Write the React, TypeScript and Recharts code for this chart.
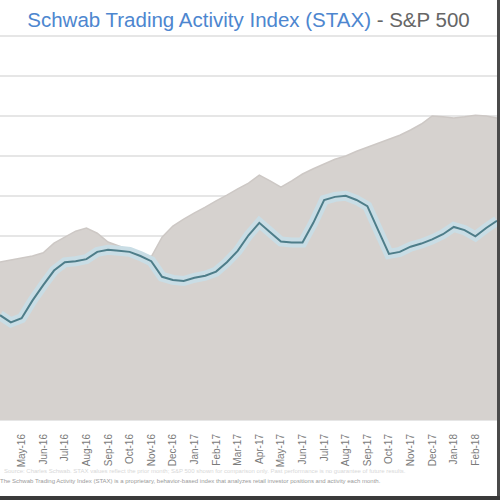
import { Area, CartesianGrid, ComposedChart, Line, XAxis, YAxis } from "recharts";

// semi-monthly readings, a month label on every other point
const monthLabels = [
  "Apr-16", "May-16", "Jun-16", "Jul-16", "Aug-16", "Sep-16", "Oct-16", "Nov-16",
  "Dec-16", "Jan-17", "Feb-17", "Mar-17", "Apr-17", "May-17", "Jun-17", "Jul-17",
  "Aug-17", "Sep-17", "Oct-17", "Nov-17", "Dec-17", "Jan-18", "Feb-18", "Mar-18",
];

const spx = [
  2035, 2040, 2045, 2050, 2058, 2082, 2097, 2112, 2120, 2107, 2085, 2075,
  2065, 2058, 2048, 2097, 2125, 2142, 2158, 2172, 2188, 2202, 2218, 2232,
  2252, 2238, 2222, 2238, 2255, 2268, 2280, 2292, 2300, 2312, 2322, 2332,
  2342, 2352, 2365, 2380, 2400, 2398, 2395, 2398, 2402, 2400, 2395,
];

const stax = [
  4.01, 3.94, 3.98, 4.15, 4.3, 4.44, 4.52, 4.53, 4.55, 4.62, 4.64, 4.63,
  4.62, 4.58, 4.53, 4.38, 4.35, 4.34, 4.37, 4.39, 4.43, 4.52, 4.63, 4.78,
  4.9, 4.81, 4.72, 4.71, 4.71, 4.9, 5.12, 5.15, 5.16, 5.12, 5.06, 4.83,
  4.6, 4.62, 4.67, 4.7, 4.74, 4.79, 4.86, 4.83, 4.77, 4.85, 4.92,
];

const spxTicks = [1700, 1800, 1900, 2000, 2100, 2200, 2300, 2400, 2500, 2600];

// first label sits on the left edge and is cut off in the source, so it is left blank
const data = spx.map((v, i) => ({
  date: i % 2 === 0 && i > 0 && i / 2 < monthLabels.length - 1 ? monthLabels[i / 2] : "",
  spx: v,
  stax: stax[i],
}));

function DateTick({ x, y, payload }: { x?: number; y?: number; payload?: { value: string } }) {
  if (!payload?.value) return <g />;
  return (
    <g transform={`translate(${x},${(y ?? 0) + 6})`}>
      <text
        transform="rotate(-90)"
        textAnchor="end"
        dy={3.5}
        fontSize={10}
        fontFamily="Liberation Sans, Arial, sans-serif"
        fill="#7a7a7a"
      >
        {payload.value}
      </text>
    </g>
  );
}

export default function App() {
  return (
    <div
      style={{
        position: "absolute",
        left: 0,
        top: 0,
        width: 500,
        height: 500,
        background: "#fff",
        overflow: "hidden",
        fontFamily: "Liberation Sans, Arial, sans-serif",
      }}
    >
      <ComposedChart
        width={498}
        height={500}
        data={data}
        margin={{ top: 36, right: 1, bottom: 38, left: 0 }}
      >
        <CartesianGrid
          yAxisId="spx"
          vertical={false}
          stroke="#e6e6e6"
          strokeWidth={2}
        />
        <XAxis
          dataKey="date"
          interval={0}
          height={42}
          axisLine={false}
          tickLine={false}
          tick={<DateTick />}
        />
        <YAxis
          yAxisId="spx"
          domain={[1640, 2600]}
          ticks={spxTicks}
          width={0}
          tick={{ fill: "transparent", fontSize: 1 }}
          axisLine={false}
          tickLine={false}
        />
        <YAxis
          yAxisId="stax"
          orientation="right"
          domain={[3, 6.7]}
          width={0}
          tick={false}
          axisLine={false}
          tickLine={false}
        />
        <Area
          yAxisId="spx"
          type="linear"
          dataKey="spx"
          fill="#d6d2cf"
          fillOpacity={1}
          stroke="#cdc8c5"
          strokeWidth={1.5}
          isAnimationActive={false}
        />
        <Line
          yAxisId="stax"
          type="linear"
          dataKey="stax"
          stroke="#c9dde5"
          strokeWidth={10}
          dot={false}
          isAnimationActive={false}
        />
        <Line
          yAxisId="stax"
          type="linear"
          dataKey="stax"
          stroke="#4e7d89"
          strokeWidth={2}
          dot={false}
          isAnimationActive={false}
        />
      </ComposedChart>
      <div
        style={{
          position: "absolute",
          top: 0,
          left: 0,
          width: 497,
          height: 35,
          background: "#fff",
        }}
      />
      <div
        style={{
          position: "absolute",
          top: 8,
          left: 0,
          width: 497,
          textAlign: "center",
          fontSize: 20.5,
          whiteSpace: "nowrap",
        }}
      >
        <span style={{ color: "#4d86cf" }}>Schwab Trading Activity Index (STAX)</span>
        <span style={{ color: "#666" }}> - S&amp;P 500</span>
      </div>
      <div
        style={{
          position: "absolute",
          top: 468,
          left: 4,
          width: 490,
          fontSize: 6,
          color: "#d8d8d8",
          whiteSpace: "nowrap",
          overflow: "hidden",
        }}
      >
        Source: Charles Schwab. STAX values reflect the prior month; S&amp;P 500 shown for comparison only. Past performance is no guarantee of future results.
      </div>
      <div
        style={{
          position: "absolute",
          top: 478,
          left: 0,
          width: 497,
          fontSize: 6,
          color: "#9a9a9a",
          whiteSpace: "nowrap",
          overflow: "hidden",
        }}
      >
        The Schwab Trading Activity Index (STAX) is a proprietary, behavior-based index that analyzes retail investor positions and activity each month.
      </div>
      <div style={{ position: "absolute", left: 497, top: 0, width: 3, height: 500, background: "#4a4a4a" }} />
      <div style={{ position: "absolute", left: 0, top: 496, width: 500, height: 4, background: "#3a3a3a" }} />
    </div>
  );
}
